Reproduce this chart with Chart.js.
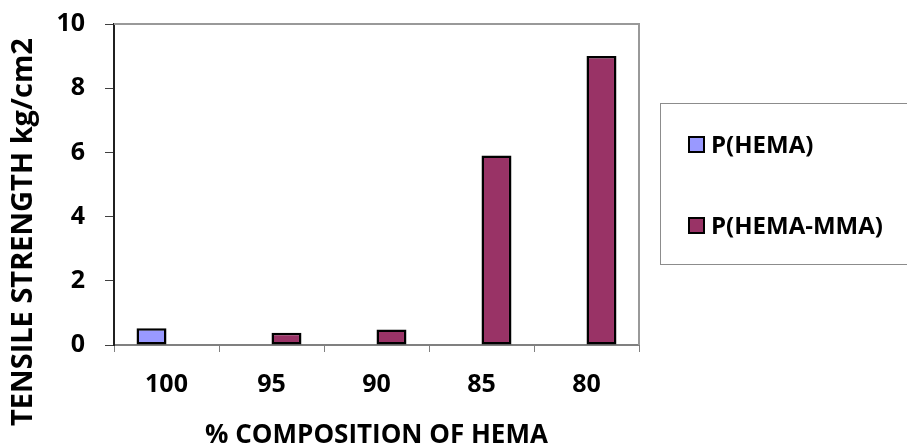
<!DOCTYPE html>
<html>
<head>
<meta charset="utf-8">
<script src="https://cdn.jsdelivr.net/npm/chart.js@4.4.1/dist/chart.umd.min.js"></script>
<style>
  html, body { margin: 0; padding: 0; background: #fff; }
  #wrap { position: relative; width: 907px; height: 446px; overflow: hidden; }
  #c { position: absolute; left: 0; top: 0; }
  #legend { position: absolute; left: 660px; top: 103px; width: 260px; height: 162px;
    border: 1px solid #8c8c8c; box-sizing: border-box; font-family: 'Open Sans', sans-serif; font-weight: bold; font-size: 24px; color: #000; line-height: 1; }
  .item { position: absolute; left: 27px; display: flex; align-items: center; }
  .sw { width: 13px; height: 13px; border: 2px solid #000; margin-right: 6px; }
</style>
</head>
<body>
<div id="wrap">
  <canvas id="c" width="907" height="446"></canvas>
  <div id="legend"></div>
</div>
<script>
const categories = ["100", "95", "90", "85", "80"];
const seriesNames = ["P(HEMA)", "P(HEMA-MMA)"];
const hemaValues = [0.52, null, null, null, null];
const hemaMmaValues = [null, 0.38, 0.48, 5.9, 9.0];
const yTicks = [0, 2, 4, 6, 8, 10];
const colors = ["#9999FF", "#993366"];
const xTitle = "% COMPOSITION OF HEMA";
const yTitle = "TENSILE STRENGTH kg/cm2";

const FONT = "'Open Sans', sans-serif";

const plotBorder = {
  id: "plotBorder",
  beforeDatasetsDraw(chart) {
    const a = chart.chartArea, ctx = chart.ctx;
    ctx.save();
    ctx.strokeStyle = "#999999";
    ctx.lineWidth = 2;
    ctx.beginPath();
    ctx.moveTo(a.left, a.top);
    ctx.lineTo(a.right, a.top);
    ctx.lineTo(a.right, a.bottom);
    ctx.stroke();
    ctx.restore();
  },
  afterDraw(chart) {
    const ctx = chart.ctx;
    ctx.save();
    ctx.translate(24, 232);
    ctx.rotate(-Math.PI / 2);
    ctx.font = "bold 29px " + FONT;
    ctx.fillStyle = "#000";
    ctx.textAlign = "center";
    ctx.textBaseline = "middle";
    ctx.fillText(yTitle, 0, 0);
    ctx.restore();
  }
};

new Chart(document.getElementById("c"), {
  type: "bar",
  data: {
    labels: categories,
    datasets: [
      { label: seriesNames[0], data: hemaValues, backgroundColor: colors[0], borderColor: "#000", borderWidth: 2.5, borderSkipped: false },
      { label: seriesNames[1], data: hemaMmaValues, backgroundColor: colors[1], borderColor: "#000", borderWidth: 2.5, borderSkipped: false }
    ]
  },
  options: {
    responsive: false,
    animation: false,
    devicePixelRatio: 1,
    layout: { padding: { left: 0, top: 24, right: 268, bottom: 0 } },
    datasets: { bar: { categoryPercentage: 0.571, barPercentage: 1.0 } },
    plugins: { legend: { display: false }, tooltip: { enabled: false } },
    scales: {
      x: {
        offset: true,
        grid: { offset: true, drawOnChartArea: false, drawTicks: true, tickLength: 7, color: "#808080", lineWidth: 1 },
        border: { display: true, color: "#808080", width: 2 },
        ticks: { color: "#000", font: { family: FONT, weight: "bold", size: 25 }, padding: 18, maxRotation: 0 },
        title: { display: true, text: xTitle, color: "#000", font: { family: FONT, weight: "bold", size: 26, lineHeight: 0.81 }, padding: { top: 0, bottom: 0 } },
        afterFit(s) { s.height = 101; s.paddingLeft = 0; s.paddingRight = 0; }
      },
      y: {
        min: 0, max: 10,
        afterBuildTicks(s) { s.ticks = yTicks.map(v => ({ value: v })); },
        grid: { drawOnChartArea: false, drawTicks: true, tickLength: 9, color: "#404040", lineWidth: 1 },
        border: { display: true, color: "#202020", width: 2 },
        ticks: { color: "#000", font: { family: FONT, weight: "bold", size: 25 }, padding: 20 },
        title: { display: false },
        afterFit(s) { s.width = 114; s.paddingTop = 0; s.paddingBottom = 0; }
      }
    }
  },
  plugins: [plotBorder]
});

const leg = document.getElementById("legend");
const tops = [28, 109];
seriesNames.forEach((n, i) => {
  const it = document.createElement("div");
  it.className = "item";
  it.style.top = tops[i] + "px";
  const sw = document.createElement("div");
  sw.className = "sw";
  sw.style.background = colors[i];
  const tx = document.createElement("span");
  tx.textContent = n;
  it.appendChild(sw); it.appendChild(tx);
  leg.appendChild(it);
});
</script>
</body>
</html>
